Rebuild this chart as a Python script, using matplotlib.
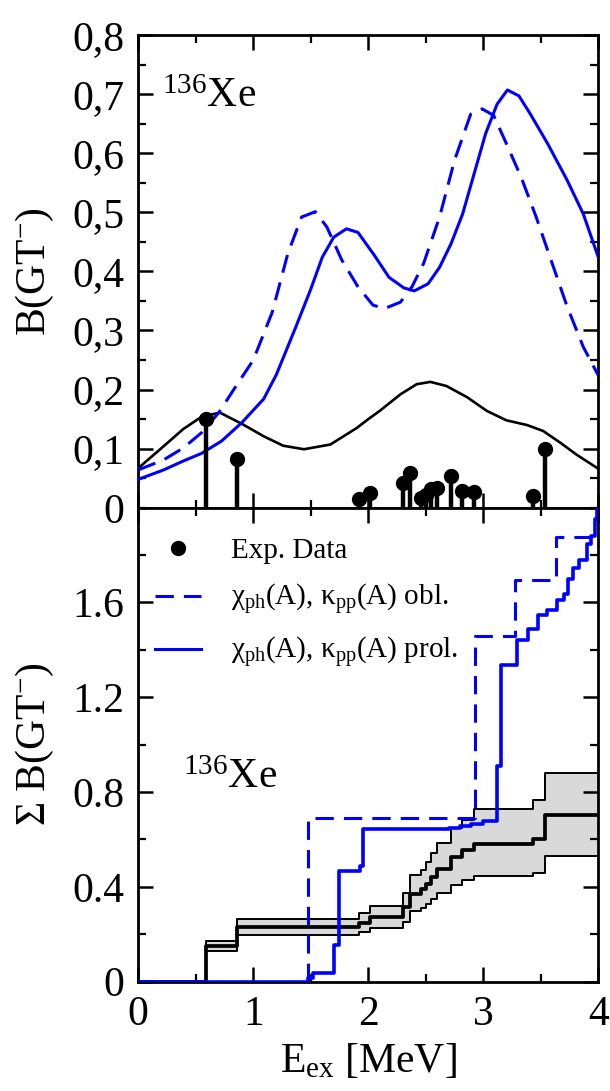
import numpy as np
import matplotlib
matplotlib.use("Agg")
import matplotlib.pyplot as plt
from matplotlib.ticker import MultipleLocator, FixedLocator, FuncFormatter
from matplotlib.lines import Line2D

plt.rcParams['font.family'] = ['Liberation Serif', 'DejaVu Serif']
plt.rcParams['mathtext.fontset'] = 'custom'
plt.rcParams['mathtext.rm'] = 'Liberation Serif'
plt.rcParams['mathtext.it'] = 'Liberation Serif:italic'
plt.rcParams['mathtext.bf'] = 'Liberation Serif:bold'

BLUE = '#0000ff'

# measured GT transitions (excitation energy in MeV, strength)
exp_e = [0.589, 0.855, 1.915, 2.013, 2.30, 2.365, 2.455, 2.50, 2.545, 2.595,
         2.716, 2.815, 2.92, 3.435, 3.535]
exp_b = [0.150, 0.082, 0.015, 0.025, 0.042, 0.058, 0.017, 0.022, 0.031, 0.033,
         0.053, 0.028, 0.026, 0.020, 0.100]
# upper / lower limits of the running sum
sum_hi = [0.172, 0.266, 0.289, 0.321, 0.373, 0.451, 0.472, 0.504, 0.545, 0.585,
          0.648, 0.683, 0.728, 0.765, 0.880]
sum_lo = [0.131, 0.197, 0.211, 0.228, 0.253, 0.299, 0.310, 0.327, 0.348, 0.376,
          0.409, 0.430, 0.444, 0.460, 0.531]

# folded experimental distribution
fold_e = [0.0, 0.22, 0.39, 0.55, 0.71, 0.91, 1.09, 1.26, 1.44, 1.67, 1.90, 2.0,
          2.10, 2.28, 2.42, 2.54, 2.68, 2.86, 3.03, 3.20, 3.38, 3.52, 3.67, 3.81, 4.0]
fold_b = [0.067, 0.104, 0.133, 0.154, 0.161, 0.141, 0.121, 0.105, 0.099, 0.107, 0.135, 0.150,
          0.164, 0.192, 0.209, 0.213, 0.206, 0.187, 0.164, 0.148, 0.140, 0.130, 0.110, 0.090, 0.066]

# QRPA, prolate shape
prol_e = [0.0, 0.22, 0.39, 0.55, 0.725, 0.90, 1.09, 1.20, 1.37, 1.50, 1.60, 1.70, 1.81,
          1.91, 2.05, 2.18, 2.31, 2.40, 2.52, 2.62, 2.72, 2.82, 2.92, 3.02, 3.12, 3.21,
          3.31, 3.41, 3.56, 3.73, 3.87, 4.0]
prol_b = [0.048, 0.064, 0.079, 0.092, 0.113, 0.144, 0.184, 0.225, 0.306, 0.370, 0.424, 0.458, 0.472,
          0.466, 0.428, 0.390, 0.372, 0.367, 0.379, 0.407, 0.447, 0.497, 0.565, 0.633, 0.683, 0.707,
          0.697, 0.666, 0.616, 0.554, 0.497, 0.424]

# QRPA, oblate shape
obl_e = [0.0, 0.22, 0.39, 0.55, 0.70, 0.83, 1.00, 1.165, 1.30, 1.42, 1.54, 1.64, 1.77,
         1.91, 2.04, 2.14, 2.28, 2.38, 2.48, 2.62, 2.75, 2.89, 2.99, 3.09, 3.19, 3.33,
         3.46, 3.60, 3.73, 3.87, 4.0]
obl_b = [0.064, 0.081, 0.101, 0.127, 0.161, 0.200, 0.250, 0.331, 0.430, 0.492, 0.501, 0.475, 0.419,
         0.374, 0.343, 0.337, 0.348, 0.374, 0.413, 0.492, 0.588, 0.666, 0.675, 0.664, 0.621, 0.559,
         0.492, 0.413, 0.340, 0.272, 0.224]

# running sums of the calculations
prol_sum_e = [1.48, 1.52, 1.705, 1.745, 1.93, 1.955, 2.70, 2.80, 2.89, 3.00, 3.115, 3.155,
              3.295, 3.39, 3.48, 3.55, 3.64, 3.70, 3.74, 3.78, 3.83, 3.90, 3.94, 3.97, 3.99]
prol_sum = [0.015, 0.035, 0.155, 0.469, 0.486, 0.644, 0.650, 0.657, 0.667, 0.677, 0.908, 1.335,
            1.441, 1.489, 1.545, 1.568, 1.610, 1.634, 1.698, 1.745, 1.777, 1.846, 1.880, 1.950, 2.02]
obl_sum_e = [1.478, 2.926, 3.275, 3.632]
obl_sum = [0.690, 1.458, 1.694, 1.875]

E_MAX = 4.0


def staircase(e, s):
    x = np.concatenate([[0.0], e, [E_MAX]])
    y = np.concatenate([[0.0], s, [s[-1]]])
    return x, y


def style(ax):
    for sp in ax.spines.values():
        sp.set_linewidth(2)
    ax.tick_params(which='both', direction='in', top=True, right=True, labelsize=30, pad=10)
    ax.tick_params(which='major', length=10.5, width=1.8)
    ax.tick_params(which='minor', length=5.5, width=1.6)


fig = plt.figure(figsize=(6.1, 10.91), dpi=100)
ax1 = fig.add_axes([0.2267, 0.5346, 0.7541, 0.4333])
ax2 = fig.add_axes([0.2267, 0.1002, 0.7541, 0.4345], sharex=ax1)

# --- upper panel: strength distributions
ax1.plot(fold_e, fold_b, color='k', lw=1.9, zorder=3)
ax1.plot(obl_e, obl_b, color=BLUE, lw=2.2, ls=(0, (6, 3.3)), zorder=4)
ax1.plot(prol_e, prol_b, color=BLUE, lw=2.2, zorder=4)
ax1.vlines(exp_e, 0, exp_b, color='k', lw=3.2, zorder=5)
ax1.plot(exp_e, exp_b, 'o', color='k', ms=10, zorder=5)

ax1.set_xlim(0, E_MAX)
ax1.set_ylim(0, 0.8)
style(ax1)
ax1.tick_params(labelbottom=False)
ax1.yaxis.set_major_locator(MultipleLocator(0.1))
ax1.yaxis.set_minor_locator(MultipleLocator(0.05))
ax1.yaxis.set_major_formatter(FuncFormatter(lambda v, p: ('%g' % round(v, 2)).replace('.', ',')))
ax1.set_ylabel('B(GT$^{-}$)', fontsize=30, labelpad=12)
ax1.text(0.205, 0.679, '$^{136}$Xe', fontsize=30, va='baseline')

# --- lower panel: running sums
cum = np.cumsum(exp_b)
xs, y_mid = staircase(exp_e, cum)
_, y_hi = staircase(exp_e, sum_hi)
_, y_lo = staircase(exp_e, sum_lo)
ax2.fill_between(xs, y_lo, y_hi, step='post', color='#d9d9d9', lw=0, zorder=1)
ax2.step(xs, y_hi, where='post', color='k', lw=1.4, zorder=2)
ax2.step(xs, y_lo, where='post', color='k', lw=1.4, zorder=2)
ax2.step(xs, y_mid, where='post', color='k', lw=2.7, zorder=3)

px, py = staircase(prol_sum_e, prol_sum)
ox, oy = staircase(obl_sum_e, obl_sum)
ax2.step(ox, oy, where='post', color=BLUE, lw=2.2, ls=(0, (6, 3.3)), zorder=4)
ax2.step(px, py, where='post', color=BLUE, lw=2.6, zorder=4)

ax2.set_ylim(0, 2.0)
style(ax2)
ax2.xaxis.set_major_locator(MultipleLocator(1))
ax2.xaxis.set_minor_locator(MultipleLocator(0.5))
ax2.xaxis.set_major_formatter(FuncFormatter(lambda v, p: '%g' % v))
ax2.yaxis.set_major_locator(FixedLocator([0, 0.4, 0.8, 1.2, 1.6]))
ax2.yaxis.set_minor_locator(MultipleLocator(0.2))
ax2.yaxis.set_major_formatter(FuncFormatter(lambda v, p: '%g' % round(v, 2)))
ax2.set_ylabel('Σ B(GT$^{-}$)', fontsize=30, labelpad=12)
ax2.set_xlabel('E$_{\\rm ex}$ [MeV]', fontsize=30, labelpad=6)
ax2.text(0.39, 0.818, '$^{136}$Xe', fontsize=30, va='baseline')

handles = [
    Line2D([], [], ls='none', marker='o', color='k', ms=10),
    Line2D([], [], color=BLUE, lw=2.2, ls=(0, (6, 3.3))),
    Line2D([], [], color=BLUE, lw=2.2),
]
labels = ['Exp. Data',
          'χ$_{\\rm ph}$(A), κ$_{\\rm pp}$(A) obl.',
          'χ$_{\\rm ph}$(A), κ$_{\\rm pp}$(A) prol.']
ax2.legend(handles, labels, loc='upper left', bbox_to_anchor=(0.036, 0.937),
           frameon=False, fontsize=21, handlelength=1.58, handletextpad=1.03,
           labelspacing=0.62, borderaxespad=0, borderpad=0, numpoints=1)

fig.savefig('out.png', dpi=100)
